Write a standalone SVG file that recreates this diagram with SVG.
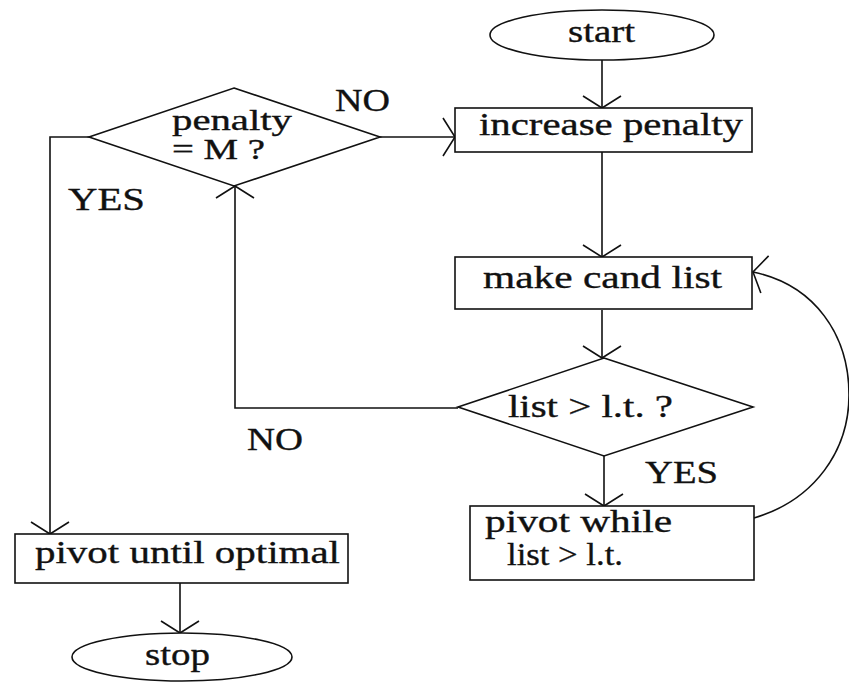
<svg xmlns="http://www.w3.org/2000/svg" width="849" height="682" viewBox="0 0 849 682">
  <style>
    .shape { fill: #fff; stroke: #111; stroke-width: 1.6; }
    .conn { fill: none; stroke: #111; stroke-width: 1.6; }
    text { font-family: "Liberation Serif", "Times New Roman", serif; font-size: 31px; fill: #111; stroke: #111; stroke-width: 0.35; }
    .tight { font-size: 29px; }
  </style>
  <defs>
    <!-- open V arrowhead, wide arms -->
    <marker id="arrow" markerUnits="userSpaceOnUse" markerWidth="40" markerHeight="40" viewBox="-20 -20 40 40" refX="0" refY="0" orient="auto" overflow="visible">
      <path d="M-12,-19 L0,0 L-12,19" fill="none" stroke="#111" stroke-width="1.6"/>
    </marker>
  </defs>
  <rect width="849" height="682" fill="#fff"/>

  <g id="connectors">
    <path class="conn" d="M602,60 L602,108" marker-end="url(#arrow)"/>
    <path class="conn" d="M602,152 L602,257" marker-end="url(#arrow)"/>
    <path class="conn" d="M602,310 L602,358" marker-end="url(#arrow)"/>
    <path class="conn" d="M604,456 L604,506" marker-end="url(#arrow)"/>
    <path class="conn" d="M458,408 L235,408 L235,186" marker-end="url(#arrow)"/>
    <path class="conn" d="M380,137 L455,137" marker-end="url(#arrow)"/>
    <path class="conn" d="M89,137 L50,137 L50,534" marker-end="url(#arrow)"/>
    <path class="conn" d="M180,583 L180,633" marker-end="url(#arrow)"/>
    <path class="conn" d="M754,518 C815,500 849,450 849,395 C849,335 815,285 753,272" marker-end="url(#arrow)"/>
  </g>

  <g id="labels">
    <text x="335" y="111" textLength="55" lengthAdjust="spacingAndGlyphs">NO</text>
    <text x="68" y="210" textLength="77" lengthAdjust="spacingAndGlyphs">YES</text>
    <text x="247" y="450" textLength="56" lengthAdjust="spacingAndGlyphs">NO</text>
    <text x="645" y="483" textLength="73" lengthAdjust="spacingAndGlyphs">YES</text>
  </g>

  <g id="start">
    <ellipse class="shape" cx="602" cy="35" rx="112" ry="25"/>
    <text x="568" y="42" textLength="67" lengthAdjust="spacingAndGlyphs">start</text>
  </g>

  <g id="increase-penalty">
    <rect class="shape" x="455" y="108" width="297" height="44"/>
    <text x="479" y="135" textLength="264" lengthAdjust="spacingAndGlyphs">increase penalty</text>
  </g>

  <g id="penalty-check">
    <polygon class="shape" points="234,88 380,137 234,186 89,137"/>
    <text class="tight" x="172" y="130" textLength="120" lengthAdjust="spacingAndGlyphs">penalty</text>
    <text class="tight" x="172" y="159" textLength="93" lengthAdjust="spacingAndGlyphs">= M ?</text>
  </g>

  <g id="make-cand-list">
    <rect class="shape" x="455" y="257" width="297" height="52"/>
    <text x="483" y="288" textLength="239" lengthAdjust="spacingAndGlyphs">make cand list</text>
  </g>

  <g id="list-check">
    <polygon class="shape" points="604,358 753,407 604,456 458,407"/>
    <text x="508" y="417" textLength="165" lengthAdjust="spacingAndGlyphs">list &gt; l.t. ?</text>
  </g>

  <g id="pivot-while">
    <rect class="shape" x="470" y="506" width="284" height="74"/>
    <text x="485" y="532" textLength="187" lengthAdjust="spacingAndGlyphs">pivot while</text>
    <text x="507" y="565" textLength="116" lengthAdjust="spacingAndGlyphs">list &gt; l.t.</text>
  </g>

  <g id="pivot-until-optimal">
    <rect class="shape" x="15" y="534" width="333" height="49"/>
    <text x="35" y="563" textLength="305" lengthAdjust="spacingAndGlyphs">pivot until optimal</text>
  </g>

  <g id="stop">
    <ellipse class="shape" cx="182" cy="657" rx="110" ry="24"/>
    <text x="145" y="665" textLength="65" lengthAdjust="spacingAndGlyphs">stop</text>
  </g>
</svg>
